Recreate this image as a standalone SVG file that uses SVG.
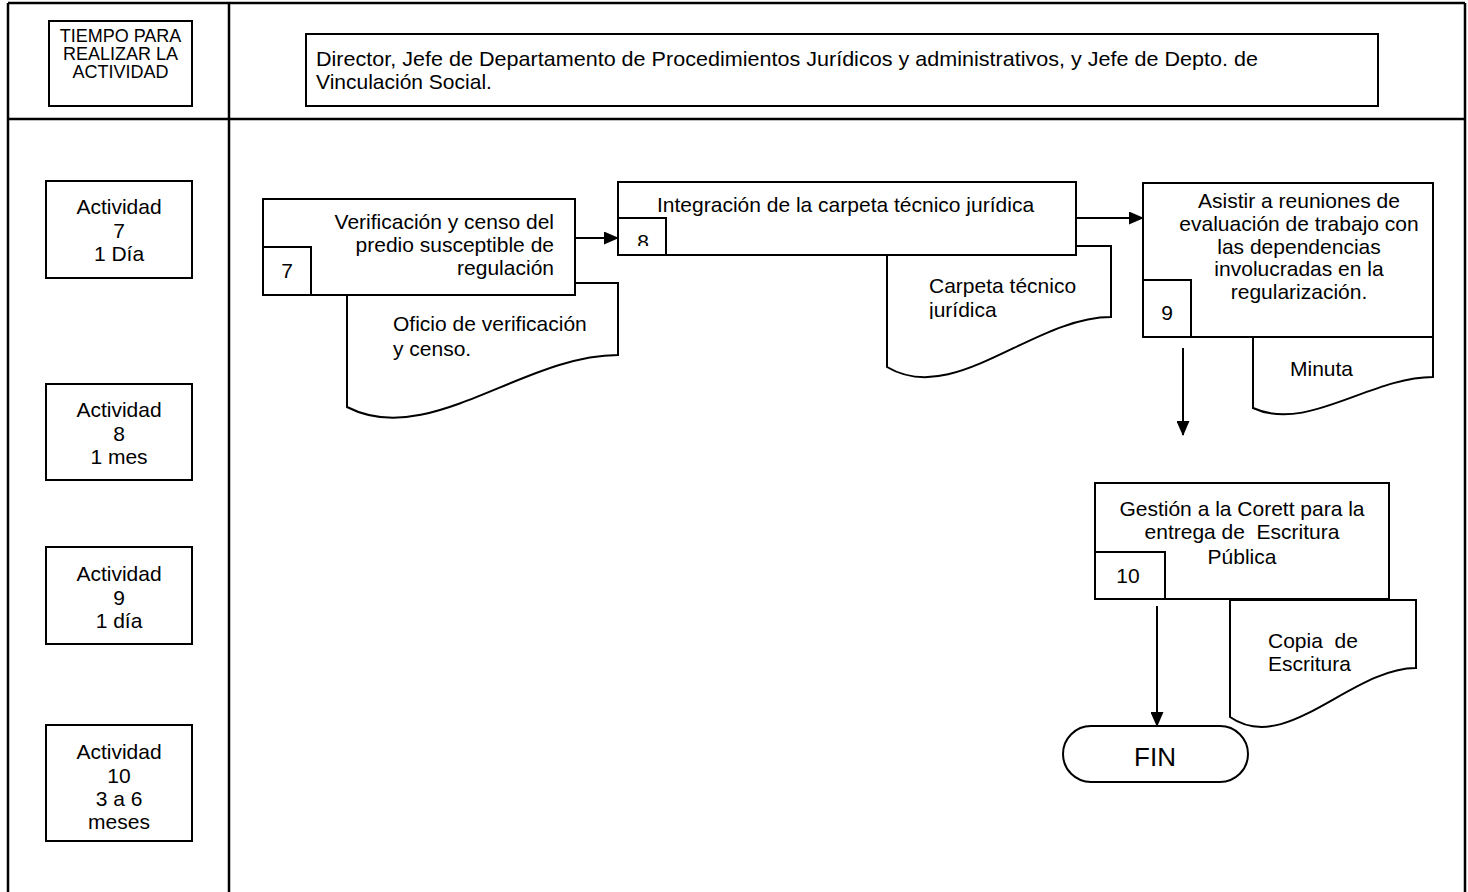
<svg xmlns="http://www.w3.org/2000/svg" width="1468" height="892" viewBox="0 0 1468 892">
<defs>
<style>
.frame{fill:none;stroke:#000;stroke-width:2.5}
.box{fill:#fff;stroke:#000;stroke-width:2}
.doc{fill:#fff;stroke:#000;stroke-width:2}
.ln{fill:none;stroke:#000;stroke-width:2}
text{font-family:"Liberation Sans",Arial,sans-serif;font-size:21px;fill:#000}
.c{text-anchor:middle}
.e{text-anchor:end}
.sm{font-size:18px}
.big{font-size:26px}
.pre{white-space:pre}
</style>
<marker id="ah" markerWidth="15" markerHeight="13" refX="14" refY="6.5" orient="auto" markerUnits="userSpaceOnUse">
<path d="M0,0 L15,6.5 L0,13 Z" fill="#000"/>
</marker>
<clipPath id="clip8"><rect x="618" y="180" width="60" height="66"/></clipPath>
<clipPath id="clipdoc8"><rect x="887" y="250" width="230" height="69"/></clipPath>
</defs>
<rect width="1468" height="892" fill="#fff"/>

<g id="frame">
<line class="frame" x1="8" y1="3" x2="1465" y2="3"/>
<line class="frame" x1="8" y1="3" x2="8" y2="892"/>
<line class="frame" x1="1465" y1="3" x2="1465" y2="892"/>
<line class="frame" x1="229" y1="3" x2="229" y2="892"/>
<line class="frame" x1="8" y1="119" x2="1465" y2="119"/>
</g>

<g id="header-time">
<rect class="box" x="49" y="21" width="143" height="85"/>
<text class="c sm" x="120.5" y="42">TIEMPO PARA</text>
<text class="c sm" x="120.5" y="60">REALIZAR LA</text>
<text class="c sm" x="120.5" y="78">ACTIVIDAD</text>
</g>

<g id="header-roles">
<rect class="box" x="306" y="34" width="1072" height="72"/>
<text x="316" y="66" textLength="942" lengthAdjust="spacingAndGlyphs">Director, Jefe de Departamento de Procedimientos Jurídicos y administrativos, y Jefe de Depto. de</text>
<text x="316" y="89">Vinculación Social.</text>
</g>

<g id="time-7">
<rect class="box" x="46" y="181" width="146" height="97"/>
<text class="c" x="119" y="214">Actividad</text>
<text class="c" x="119" y="238">7</text>
<text class="c" x="119" y="261">1 Día</text>
</g>
<g id="time-8">
<rect class="box" x="46" y="384" width="146" height="96"/>
<text class="c" x="119" y="417">Actividad</text>
<text class="c" x="119" y="441">8</text>
<text class="c" x="119" y="464">1 mes</text>
</g>
<g id="time-9">
<rect class="box" x="46" y="547" width="146" height="97"/>
<text class="c" x="119" y="581">Actividad</text>
<text class="c" x="119" y="605">9</text>
<text class="c" x="119" y="628">1 día</text>
</g>
<g id="time-10">
<rect class="box" x="46" y="725" width="146" height="116"/>
<text class="c" x="119" y="759">Actividad</text>
<text class="c" x="119" y="783">10</text>
<text class="c" x="119" y="806">3 a 6</text>
<text class="c" x="119" y="829">meses</text>
</g>

<g id="doc-7">
<path class="doc" d="M347,283 H618 V355 C523,355 428,449 347,407 Z"/>
<text x="393" y="331">Oficio de verificación</text>
<text x="393" y="356">y censo.</text>
</g>
<g id="node-7">
<rect class="box" x="263" y="199" width="312" height="96"/>
<rect class="box" x="263" y="247" width="48" height="48"/>
<text class="c" x="287" y="278">7</text>
<text class="e" x="554" y="229">Verificación y censo del</text>
<text class="e" x="554" y="252">predio susceptible de</text>
<text class="e" x="554" y="275">regulación</text>
</g>

<g id="doc-8">
<path class="doc" d="M887,246 H1111 V317 C1033,317 954,407 887,367 Z"/>
<g clip-path="url(#clipdoc8)">
<text x="929" y="293">Carpeta técnico</text>
<text x="929" y="317">jurídica</text>
</g>
</g>
<g id="node-8">
<rect class="box" x="618" y="182" width="458" height="73"/>
<rect class="box" x="618" y="218" width="48" height="37"/>
<text class="c" x="643" y="249" clip-path="url(#clip8)">8</text>
<text x="657" y="212">Integración de la carpeta técnico jurídica</text>
</g>

<g id="doc-9">
<path class="doc" d="M1253,337 H1433 V377 C1370,377 1307,433 1253,408 Z"/>
<text x="1290" y="376">Minuta</text>
</g>
<g id="node-9">
<rect class="box" x="1143" y="183" width="290" height="154"/>
<rect class="box" x="1143" y="280" width="48" height="57"/>
<text class="c" x="1167" y="320">9</text>
<text class="c" x="1299" y="208">Asistir a reuniones de</text>
<text class="c" x="1299" y="231">evaluación de trabajo con</text>
<text class="c" x="1299" y="254">las dependencias</text>
<text class="c" x="1299" y="276">involucradas en la</text>
<text class="c" x="1299" y="299">regularización.</text>
</g>

<g id="doc-10">
<path class="doc" d="M1230,600 H1416 V668 C1351,668 1286,756 1230,717 Z"/>
<text class="pre" x="1268" y="648">Copia  de</text>
<text x="1268" y="671">Escritura</text>
</g>
<g id="node-10">
<rect class="box" x="1095" y="483" width="294" height="116"/>
<rect class="box" x="1095" y="552" width="70" height="47"/>
<text class="c" x="1128" y="583">10</text>
<text class="c" x="1242" y="516">Gestión a la Corett para la</text>
<text class="c pre" x="1242" y="539">entrega de  Escritura</text>
<text class="c" x="1242" y="564">Pública</text>
</g>

<g id="fin">
<rect class="box" x="1063" y="726" width="185" height="56" rx="28" ry="28"/>
<text class="c big" x="1155" y="766">FIN</text>
</g>

<g id="connectors">
<line class="ln" x1="575" y1="238" x2="618" y2="238" marker-end="url(#ah)"/>
<line class="ln" x1="1076" y1="218" x2="1143" y2="218" marker-end="url(#ah)"/>
<line class="ln" x1="1183" y1="348" x2="1183" y2="435" marker-end="url(#ah)"/>
<line class="ln" x1="1157" y1="606" x2="1157" y2="726" marker-end="url(#ah)"/>
</g>
</svg>
